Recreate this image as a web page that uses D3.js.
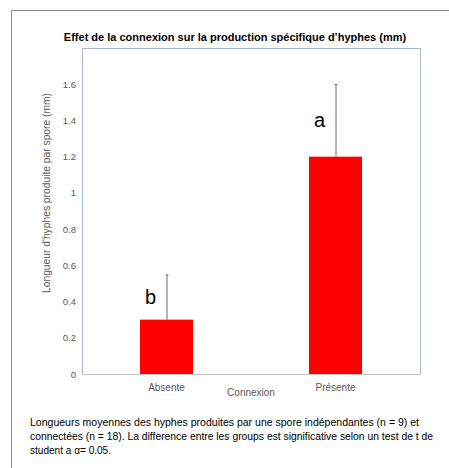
<!DOCTYPE html>
<html>
<head>
<meta charset="utf-8">
<script src="https://cdn.jsdelivr.net/npm/d3@7"></script>
<style>
  body { margin: 0; background: #fff; }
  svg { display: block; }
</style>
</head>
<body>
<svg id="chart" width="449" height="468"></svg>
<script>
// chart data
var categories = ["Absente", "Présente"];
var means = [0.30, 1.20];
var errors = [0.25, 0.40];
var letters = ["b", "a"];
var yTicks = [0, 0.2, 0.4, 0.6, 0.8, 1, 1.2, 1.4, 1.6];
var captionLines = [
    "Longueurs moyennes des hyphes produites par une spore indépendantes (n = 9) et",
    "connectées (n = 18).  La difference entre les groups est significative selon un test de t de",
    "student a α= 0.05."
];

var svg = d3.select("#chart");
var plot = {left: 82, top: 48, right: 420, bottom: 374};

// outer frame (only left and top visible)
svg.append("path")
    .attr("d", "M11.5,468 L11.5,10.5 L449,10.5")
    .attr("fill", "none")
    .attr("stroke", "#8c8c8c")
    .attr("stroke-width", 1);

var x = d3.scaleBand().domain(categories).range([plot.left, plot.right]).padding(0);
var y = d3.scaleLinear().domain([0, 1.8]).range([plot.bottom, plot.top]);
var barW = 53;

// plot area border
svg.append("rect")
    .attr("x", plot.left + 0.5).attr("y", plot.top + 0.5)
    .attr("width", plot.right - plot.left).attr("height", plot.bottom - plot.top)
    .attr("fill", "none")
    .attr("stroke", "#a7b7cf");

// bars
svg.selectAll(".bar").data(means).enter().append("rect")
    .attr("class", "bar")
    .attr("x", (d, i) => x(categories[i]) + x.bandwidth() / 2 - barW / 2)
    .attr("y", d => y(d))
    .attr("width", barW)
    .attr("height", d => y(0) - y(d))
    .attr("fill", "#ff0000");

// error bars (upper only)
svg.selectAll(".err").data(means).enter().append("line")
    .attr("x1", (d, i) => x(categories[i]) + x.bandwidth() / 2 + 0.5)
    .attr("x2", (d, i) => x(categories[i]) + x.bandwidth() / 2 + 0.5)
    .attr("y1", d => y(d))
    .attr("y2", (d, i) => y(d + errors[i]))
    .attr("stroke", "#6d6d6d")
    .attr("stroke-width", 1);
svg.selectAll(".cap").data(means).enter().append("line")
    .attr("x1", (d, i) => x(categories[i]) + x.bandwidth() / 2 - 1)
    .attr("x2", (d, i) => x(categories[i]) + x.bandwidth() / 2 + 2)
    .attr("y1", (d, i) => y(d + errors[i]) + 0.5)
    .attr("y2", (d, i) => y(d + errors[i]) + 0.5)
    .attr("stroke", "#6d6d6d");

// significance letters
svg.selectAll(".letter").data(means).enter().append("text")
    .attr("x", (d, i) => x(categories[i]) + x.bandwidth() / 2 - 16)
    .attr("y", (d, i) => y(d + errors[i] / 2) + 7)
    .attr("text-anchor", "middle")
    .attr("font-family", "Liberation Sans, Arial, sans-serif")
    .attr("font-size", 20)
    .attr("fill", "#000")
    .text((d, i) => letters[i]);

// bottom axis line
svg.append("line")
    .attr("x1", plot.left).attr("x2", plot.right + 1)
    .attr("y1", plot.bottom + 0.5).attr("y2", plot.bottom + 0.5)
    .attr("stroke", "#c3c7cc");

// y tick labels
svg.selectAll(".ytick").data(yTicks).enter().append("text")
    .attr("x", 76)
    .attr("y", d => y(d) + 3.5)
    .attr("text-anchor", "end")
    .attr("font-family", "Liberation Sans, Arial, sans-serif")
    .attr("font-size", 9.5)
    .attr("fill", "#595959")
    .text(d => d);

// x labels
svg.selectAll(".xlab").data(categories).enter().append("text")
    .attr("x", d => x(d) + x.bandwidth() / 2)
    .attr("y", 391)
    .attr("text-anchor", "middle")
    .attr("font-family", "Liberation Sans, Arial, sans-serif")
    .attr("font-size", 10)
    .attr("fill", "#595959")
    .text(d => d);

svg.append("text")
    .attr("x", (plot.left + plot.right) / 2)
    .attr("y", 396)
    .attr("text-anchor", "middle")
    .attr("font-family", "Liberation Sans, Arial, sans-serif")
    .attr("font-size", 10)
    .attr("fill", "#595959")
    .text("Connexion");

// y axis title
svg.append("text")
    .attr("transform", "translate(50,193) rotate(-90)")
    .attr("text-anchor", "middle")
    .attr("font-family", "Liberation Sans, Arial, sans-serif")
    .attr("font-size", 10)
    .attr("fill", "#595959")
    .attr("textLength", 200)
    .attr("lengthAdjust", "spacingAndGlyphs")
    .text("Longueur d'hyphes produite par spore (mm)");

// chart title
svg.append("text")
    .attr("x", 235)
    .attr("y", 41)
    .attr("text-anchor", "middle")
    .attr("font-family", "Liberation Sans, Arial, sans-serif")
    .attr("font-size", 11)
    .attr("font-weight", "bold")
    .attr("fill", "#000")
    .text("Effet de la connexion sur la production spécifique d\u2019hyphes (mm)");

// caption
var capWidths = [389, 403, 81];
svg.selectAll(".cap-line").data(captionLines).enter().append("text")
    .attr("x", 30)
    .attr("y", (d, i) => 426 + i * 14)
    .attr("font-family", "Liberation Sans, Arial, sans-serif")
    .attr("font-size", 10)
    .attr("fill", "#000")
    .attr("textLength", (d, i) => capWidths[i])
    .attr("lengthAdjust", "spacingAndGlyphs")
    .text(d => d);
</script>
</body>
</html>
